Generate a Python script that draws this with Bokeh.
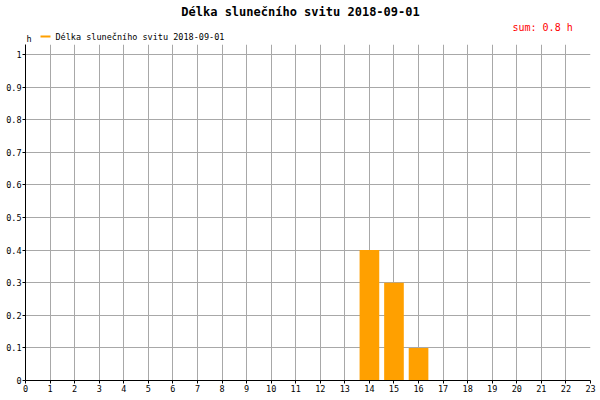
from bokeh.plotting import figure
from bokeh.layouts import column
from bokeh.models import Range1d, FixedTicker
from bokeh.core.properties import value
from bokeh.embed import file_html
from bokeh.resources import INLINE

hours = list(range(24))
sunshine = [0, 0, 0, 0, 0, 0, 0, 0, 0, 0, 0, 0, 0, 0, 0.4, 0.3, 0.1, 0, 0, 0, 0, 0, 0, 0]
y_ticks = [0, 0.1, 0.2, 0.3, 0.4, 0.5, 0.6, 0.7, 0.8, 0.9, 1]
y_tick_labels = ["0", "0.1", "0.2", "0.3", "0.4", "0.5", "0.6", "0.7", "0.8", "0.9", "1"]
title_text = "Délka slunečního svitu 2018-09-01"
legend_text = "Délka slunečního svitu 2018-09-01"
sum_text = "sum: 0.8 h"
unit_text = "h"

W, H = 600, 400
HEAD = 42                      # header strip height
FL, FR, FB = 25, 590, 380      # frame edges (page px)
MONO = "DejaVu Sans Mono"
ORANGE = "#ffa000"

# ---- header strip: title, sum, legend, unit (page pixel coordinates, y down)
# (its frame is aligned with the chart frame below, so x maps FL..FR)
hd = figure(width=W, height=HEAD, output_backend="svg", toolbar_location=None,
            x_range=Range1d(FL, FR), y_range=Range1d(HEAD, 0),
            min_border=0, x_axis_type=None, y_axis_type=None)
hd.grid.visible = False
hd.outline_line_color = None
hd.background_fill_color = "white"
hd.border_fill_color = "white"

def txt(fig, s, x, y, size, color="black", bold=False, align="left"):
    fig.text(x=[x], y=[y], text=[s], text_font=value(MONO), text_font_size=size,
             text_color=color, text_font_style="bold" if bold else "normal",
             text_align=align, text_baseline="middle")

txt(hd, title_text, 300, 11, "12px", bold=True, align="center")
txt(hd, sum_text, 512, 27, "10px", color="red")
txt(hd, legend_text, 55, 36, "8.5px")
txt(hd, unit_text, FL + 1, 38, "8.5px")
hd.segment(x0=[40], x1=[50], y0=[36], y1=[36], line_color=ORANGE, line_width=2)

# ---- main chart
FT = 44
p = figure(width=W, height=H - HEAD, output_backend="svg", toolbar_location=None,
           x_range=Range1d(0, 23), y_range=Range1d(0, (FB - FT) / 326.0),
           min_border_left=FL, min_border_right=W - FR, min_border_top=FT - HEAD,
           min_border_bottom=H - FB)
p.outline_line_color = None
p.background_fill_color = "white"
p.border_fill_color = "white"

p.vbar(x=hours, top=sunshine, width=0.8, fill_color=ORANGE, line_color=None)

for ax in (p.xaxis[0], p.yaxis[0]):
    ax.axis_line_color = "black"
    ax.axis_line_width = 1
    ax.major_tick_line_color = "black"
    ax.minor_tick_line_color = None
    ax.major_tick_in = 0
    ax.major_tick_out = 3
    ax.major_label_text_font = MONO
    ax.major_label_text_font_size = "8.5px"
    ax.major_label_text_color = "black"
    ax.major_label_standoff = 1
    ax.axis_label_standoff = 0

p.xaxis.ticker = FixedTicker(ticks=hours)
p.yaxis.ticker = FixedTicker(ticks=y_ticks)
p.yaxis.major_label_overrides = {t: l for t, l in zip(y_ticks, y_tick_labels)}

p.xgrid.ticker = FixedTicker(ticks=hours)
p.ygrid.ticker = FixedTicker(ticks=y_ticks)
p.grid.grid_line_color = "#a8a8a8"
p.grid.grid_line_width = 1

layout = column(hd, p, spacing=0)

open("out.html", "w").write(file_html(layout, INLINE))
